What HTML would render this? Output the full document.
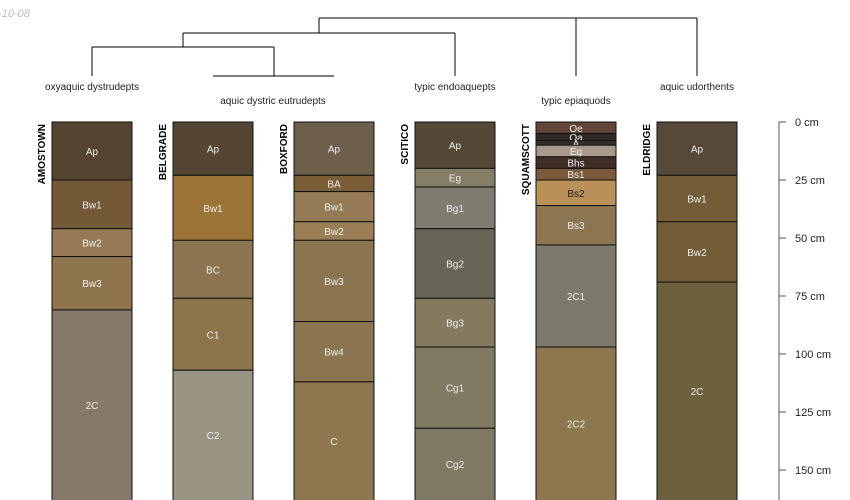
<!DOCTYPE html>
<html><head><meta charset="utf-8"><style>
body{margin:0;background:#fff}
svg{display:block;font-family:"Liberation Sans",sans-serif}
</style></head><body>
<svg id="chart" width="850" height="500" viewBox="0 0 850 500">
<text x="-8" y="17" font-size="11" font-style="italic" fill="#bbb">2-10-08</text>
<g id="dendro" stroke="#000" stroke-width="1" fill="none">
<path d="M319 18H697M576 18V76M697 18V76M319 18V33M183 33H455M455 33V76M183 33V47M92 47H274M92 47V76M274 47V76M213 76H334"/>
</g>
<g id="profiles"></g>
<g id="axis"></g>
</svg>
<script>
const profileNames=["AMOSTOWN","BELGRADE","BOXFORD","SCITICO","SQUAMSCOTT","ELDRIDGE"];
const taxa=["oxyaquic dystrudepts","aquic dystric eutrudepts","typic endoaquepts","typic epiaquods","aquic udorthents"];
const taxaX=[92,273,455,576,697];
const taxaY=[86,100,86,100,86];
const horizonNames=[
["Ap","Bw1","Bw2","Bw3","2C"],
["Ap","Bw1","BC","C1","C2"],
["Ap","BA","Bw1","Bw2","Bw3","Bw4","C"],
["Ap","Eg","Bg1","Bg2","Bg3","Cg1","Cg2"],
["Oe","Oa","A","Eg","Bhs","Bs1","Bs2","Bs3","2C1","2C2"],
["Ap","Bw1","Bw2","2C"]];
const horizonBottoms=[
[25,46,58,81,170],
[23,51,76,107,170],
[23,30,43,51,86,112,170],
[20,28,46,76,97,132,170],
[5,8,10,15,20,25,36,53,97,170],
[23,43,69,170]];
const horizonColors=[
["#554430","#735936","#977a55","#8d744d","#87796a"],
["#554634","#9b7337","#8c7450","#8c744b","#989383"],
["#6e5e4c","#7a5e37","#947b55","#997e56","#8b7550","#8b7550","#8e774f"],
["#544837","#857e66","#807d70","#676555","#847a5d","#817a62","#807a65"],
["#614536","#2f2a26","#352e29","#a8998a","#3f2e25","#7c5a3c","#b99057","#8c7651","#7d796b","#8c774e"],
["#56493a","#725d37","#725d37","#6c603f"]];
const axisTicks=[0,25,50,75,100,125,150];
const top0=122, pxPerCm=2.32, x0=52, colStep=121, colW=80, visMax=163;
function yScale(d){return top0+d*pxPerCm;}
function xScale(i){return x0+i*colStep;}
const NS="http://www.w3.org/2000/svg";
const svg=document.getElementById('chart');
const gp=document.getElementById('profiles');
const ga=document.getElementById('axis');
function mk(t,a,p){const e=document.createElementNS(NS,t);for(const k in a)e.setAttribute(k,a[k]);p.appendChild(e);return e;}
taxa.forEach((t,i)=>{
 const e=mk('text',{x:taxaX[i],y:taxaY[i]+4,'text-anchor':'middle','font-size':10,fill:'#222'},svg);
 
 
 e.textContent=t;
});
profileNames.forEach((n,i)=>{
 const x=xScale(i);
 const g=mk('g',{},gp);
 
 
 let top=0;
 horizonNames[i].forEach((h,j)=>{
  const b=horizonBottoms[i][j];
  const r=mk('rect',{x:x,y:yScale(top),width:colW,height:yScale(b)-yScale(top),fill:horizonColors[i][j],stroke:'#111','stroke-width':1},g);
  
  
  const l=mk('text',{x:x+colW/2,y:(yScale(top)+yScale(Math.min(b,visMax)))/2+4,'text-anchor':'middle','font-size':10,fill:h==='Bs2'?'#222':'#eee'},g);
  
  
  l.textContent=h;
  top=b;
 });
 const t=mk('text',{x:0,y:0,'font-size':10,'font-weight':'bold',fill:'#000','text-anchor':'end',transform:`translate(${x-7},${top0+2}) rotate(-90)`},g);
 
 
 t.textContent=n;
});
const al=mk('line',{x1:779,y1:yScale(0),x2:779,y2:500,stroke:'#555','stroke-width':1},ga);


axisTicks.forEach(v=>{
 const y=yScale(v);
 const tk=mk('line',{x1:779,y1:y,x2:786,y2:y,stroke:'#555'},ga);
 
 
 const tl=mk('text',{x:795,y:y+4,'font-size':11,fill:'#222'},ga);
 
 
 tl.textContent=v+' cm';
});
</script>
</body></html>
